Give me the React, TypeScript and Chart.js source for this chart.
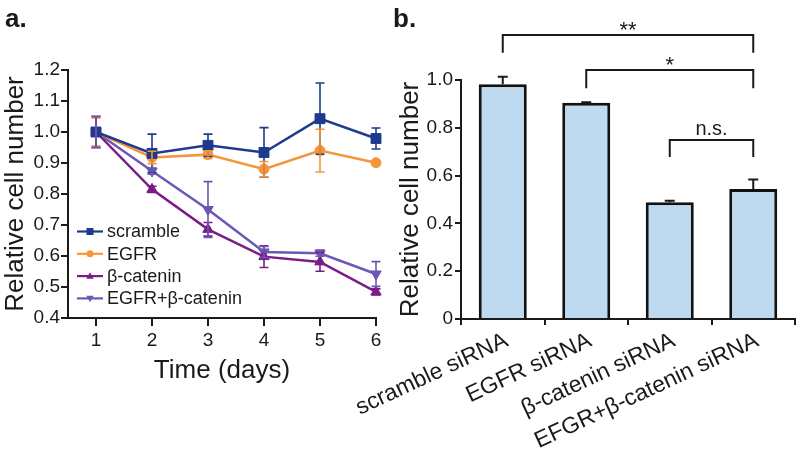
import React, { useEffect, useRef } from "react";
import { Chart, registerables } from "chart.js";

Chart.register(...registerables);

// ---------- Panel a data ----------
const days = [1, 2, 3, 4, 5, 6];
const lineYTicks = [0.4, 0.5, 0.6, 0.7, 0.8, 0.9, 1.0, 1.1, 1.2];
const scrambleMean = [1.0, 0.931, 0.957, 0.934, 1.043, 0.979];
const scrambleErr = [0.05, 0.062, 0.036, 0.08, 0.115, 0.034];
const egfrMean = [1.0, 0.918, 0.927, 0.88, 0.94, 0.901];
const egfrErr = [0.045, 0.02, 0.012, 0.025, 0.069, 0.004];
const bcatMean = [1.0, 0.815, 0.686, 0.598, 0.581, 0.484];
const bcatErr = [0.05, 0.01, 0.022, 0.035, 0.03, 0.01];
const comboMean = [1.0, 0.874, 0.75, 0.613, 0.609, 0.542];
const comboErr = [0.05, 0.01, 0.09, 0.018, 0.01, 0.04];
const seriesNames = ["scramble", "EGFR", "β-catenin", "EGFR+β-catenin"];

// ---------- Panel b data ----------
const barCategories = ["scramble siRNA", "EGFR siRNA", "β-catenin siRNA", "EFGR+β-catenin siRNA"];
const barValues = [0.982, 0.905, 0.488, 0.544];
const barErrors = [0.032, 0.002, 0.007, 0.04];
const barYTicks = [0, 0.2, 0.4, 0.6, 0.8, 1.0];
const bracketFrom = [0, 1, 2];
const bracketTo = [3, 3, 3];
const bracketLevel = [1.188, 1.042, 0.749];
const bracketLegEnd = [1.114, 0.966, 0.678];
const bracketLabels = ["**", "*", "n.s."];

const FONT = "'Liberation Sans', Arial, Helvetica, sans-serif";
const INK = "#1a1a1a";
const COLORS = ["#1d3a8e", "#f6963a", "#7b1c86", "#6b58b4"];
const MARKERS = ["rect", "circle", "triangle", "triangleDown"];

Chart.defaults.font.family = FONT;

function drawMarker(ctx: CanvasRenderingContext2D, kind: string, x: number, y: number, r: number) {
  ctx.beginPath();
  if (kind === "rect") {
    ctx.rect(x - r, y - r, 2 * r, 2 * r);
  } else if (kind === "circle") {
    ctx.arc(x, y, r, 0, Math.PI * 2);
  } else if (kind === "triangle") {
    ctx.moveTo(x, y - r * 1.1);
    ctx.lineTo(x + r * 1.05, y + r * 0.75);
    ctx.lineTo(x - r * 1.05, y + r * 0.75);
    ctx.closePath();
  } else {
    ctx.moveTo(x, y + r * 1.1);
    ctx.lineTo(x + r * 1.05, y - r * 0.75);
    ctx.lineTo(x - r * 1.05, y - r * 0.75);
    ctx.closePath();
  }
  ctx.fill();
}

const lineErrorPlugin = {
  id: "lineErrors",
  afterDatasetsDraw(chart: any) {
    const ctx = chart.ctx;
    const xs = chart.scales.x;
    const ys = chart.scales.y;
    chart.data.datasets.forEach((ds: any) => {
      const errs: number[] = ds.errors;
      ctx.save();
      ctx.strokeStyle = ds.borderColor;
      ctx.lineWidth = 1.6;
      ds.data.forEach((p: any, i: number) => {
        const x = xs.getPixelForValue(p.x);
        const yT = ys.getPixelForValue(p.y + errs[i]);
        const yB = ys.getPixelForValue(p.y - errs[i]);
        ctx.beginPath();
        ctx.moveTo(x, yT);
        ctx.lineTo(x, yB);
        ctx.moveTo(x - 4.5, yT);
        ctx.lineTo(x + 4.5, yT);
        ctx.moveTo(x - 4.5, yB);
        ctx.lineTo(x + 4.5, yB);
        ctx.stroke();
      });
      ctx.restore();
    });
  },
};

const lineLegendPlugin = {
  id: "lineLegend",
  afterDraw(chart: any) {
    const ctx = chart.ctx;
    const { left, top } = chart.chartArea;
    ctx.save();
    ctx.font = `18px ${FONT}`;
    ctx.textBaseline = "middle";
    ctx.textAlign = "left";
    seriesNames.forEach((name, i) => {
      const y = top + 161.5 + i * 22.3;
      const x0 = left + 9;
      ctx.strokeStyle = COLORS[i];
      ctx.fillStyle = COLORS[i];
      ctx.lineWidth = 2.2;
      ctx.beginPath();
      ctx.moveTo(x0, y);
      ctx.lineTo(x0 + 26, y);
      ctx.stroke();
      drawMarker(ctx, MARKERS[i], x0 + 13, y, 3.5);
      ctx.fillStyle = INK;
      ctx.fillText(name, x0 + 30, y + 1);
    });
    ctx.font = `bold 26px ${FONT}`;
    ctx.fillStyle = INK;
    ctx.textBaseline = "alphabetic";
    ctx.fillText("a.", 5, 27);
    ctx.restore();
  },
};

const barExtrasPlugin = {
  id: "barExtras",
  afterDatasetsDraw(chart: any) {
    const ctx = chart.ctx;
    const xs = chart.scales.x;
    const ys = chart.scales.y;
    const meta = chart.getDatasetMeta(0);
    ctx.save();
    ctx.strokeStyle = INK;
    ctx.lineWidth = 2;
    meta.data.forEach((bar: any, i: number) => {
      const x = bar.x;
      const y0 = ys.getPixelForValue(barValues[i]);
      const y1 = ys.getPixelForValue(barValues[i] + barErrors[i]);
      ctx.beginPath();
      ctx.moveTo(x, y0);
      ctx.lineTo(x, y1);
      ctx.moveTo(x - 5, y1);
      ctx.lineTo(x + 5, y1);
      ctx.stroke();
    });
    // significance brackets
    bracketLabels.forEach((label, i) => {
      const x1 = xs.getPixelForValue(bracketFrom[i]);
      const x2 = xs.getPixelForValue(bracketTo[i]);
      const y = ys.getPixelForValue(bracketLevel[i]);
      const yl = ys.getPixelForValue(bracketLegEnd[i]);
      ctx.beginPath();
      ctx.moveTo(x1, yl);
      ctx.lineTo(x1, y);
      ctx.lineTo(x2, y);
      ctx.lineTo(x2, yl);
      ctx.stroke();
      const stars = /^\*+$/.test(label);
      ctx.fillStyle = INK;
      ctx.textAlign = "center";
      ctx.textBaseline = "alphabetic";
      ctx.font = stars ? `22px ${FONT}` : `20px ${FONT}`;
      ctx.fillText(label, (x1 + x2) / 2, stars ? y + 2 : y - 5);
    });
    ctx.font = `bold 26px ${FONT}`;
    ctx.textAlign = "left";
    ctx.fillText("b.", 63, 27);
    ctx.restore();
  },
};

function LineChart() {
  const ref = useRef<HTMLCanvasElement>(null);
  useEffect(() => {
    const means = [scrambleMean, egfrMean, bcatMean, comboMean];
    const errs = [scrambleErr, egfrErr, bcatErr, comboErr];
    const chart = new Chart(ref.current as HTMLCanvasElement, {
      type: "line",
      data: {
        datasets: seriesNames.map((name, i) => ({
          label: name,
          data: days.map((d, k) => ({ x: d, y: means[i][k] })),
          errors: errs[i],
          borderColor: COLORS[i],
          backgroundColor: COLORS[i],
          pointBackgroundColor: COLORS[i],
          pointBorderColor: COLORS[i],
          borderWidth: 2.5,
          pointStyle: i === 0 ? "rect" : i === 1 ? "circle" : "triangle",
          pointRotation: i === 3 ? 180 : 0,
          pointRadius: i === 0 ? 7 : i === 1 ? 5 : 6,
          pointBorderWidth: 1,
          clip: false,
          tension: 0,
        })) as any,
      },
      options: {
        animation: false,
        responsive: false,
        layout: { padding: { top: 70, right: 24, left: 0, bottom: 0 } },
        plugins: { legend: { display: false }, tooltip: { enabled: false } },
        scales: {
          x: {
            type: "linear",
            min: 0.5,
            max: 6,
            afterBuildTicks: (s: any) => {
              s.ticks = days.map((v) => ({ value: v }));
            },
            afterFit: (s: any) => {
              s.height = 135;
            },
            grid: { drawOnChartArea: false, drawTicks: true, tickLength: 8, color: INK, lineWidth: 2 },
            border: { color: INK, width: 2 },
            ticks: { font: { size: 19 }, color: INK, padding: 3, maxRotation: 0 },
            title: {
              display: true,
              text: "Time (days)",
              font: { size: 26 },
              color: INK,
              padding: { top: 0, bottom: 67 },
            },
          },
          y: {
            min: 0.4,
            max: 1.2,
            afterBuildTicks: (s: any) => {
              s.ticks = lineYTicks.map((v) => ({ value: v }));
            },
            afterFit: (s: any) => {
              s.width = 68;
            },
            grid: { drawOnChartArea: false, drawTicks: true, tickLength: 7, color: INK, lineWidth: 2 },
            border: { color: INK, width: 2 },
            ticks: {
              font: { size: 19 },
              color: INK,
              padding: 1,
              callback: (v: any) => Number(v).toFixed(1),
            },
            title: {
              display: true,
              text: "Relative cell number",
              font: { size: 26 },
              color: INK,
              padding: { top: 0, bottom: 0 },
            },
          },
        },
      },
      plugins: [lineErrorPlugin, lineLegendPlugin],
    } as any);
    return () => chart.destroy();
  }, []);
  return (
    <canvas
      ref={ref}
      width={400}
      height={453}
      style={{ position: "absolute", left: 0, top: 0, width: 400, height: 453 }}
    />
  );
}

function BarChart() {
  const ref = useRef<HTMLCanvasElement>(null);
  useEffect(() => {
    const chart = new Chart(ref.current as HTMLCanvasElement, {
      type: "bar",
      data: {
        labels: barCategories,
        datasets: [
          {
            data: barValues,
            backgroundColor: "#bddaf1",
            borderColor: "#111111",
            borderWidth: 3,
            barPercentage: 0.575,
            categoryPercentage: 1,
          },
        ],
      },
      options: {
        animation: false,
        responsive: false,
        layout: { padding: { top: 80, right: 5, left: 0, bottom: 0 } },
        plugins: { legend: { display: false }, tooltip: { enabled: false } },
        scales: {
          x: {
            afterFit: (s: any) => {
              s.height = 134;
            },
            grid: { drawOnChartArea: false, drawTicks: true, tickLength: 6, color: INK, lineWidth: 2, offset: true },
            border: { color: INK, width: 2 },
            ticks: {
              font: { size: 23 },
              color: INK,
              padding: 2,
              labelOffset: 4,
              minRotation: 25,
              maxRotation: 25,
              autoSkip: false,
            },
          },
          y: {
            min: 0,
            max: 1.0,
            afterBuildTicks: (s: any) => {
              s.ticks = barYTicks.map((v) => ({ value: v }));
            },
            afterFit: (s: any) => {
              s.width = 131;
            },
            grid: { drawOnChartArea: false, drawTicks: true, tickLength: 6, color: INK, lineWidth: 2 },
            border: { color: INK, width: 2 },
            ticks: {
              font: { size: 19 },
              color: INK,
              padding: 2,
              callback: (v: any) => (Number(v) === 0 ? "0" : Number(v).toFixed(1)),
            },
            title: {
              display: true,
              text: "Relative cell number",
              font: { size: 26 },
              color: INK,
              padding: { top: 65, bottom: 0 },
            },
          },
        },
      },
      plugins: [barExtrasPlugin],
    } as any);
    return () => chart.destroy();
  }, []);
  return (
    <canvas
      ref={ref}
      width={470}
      height={453}
      style={{ position: "absolute", left: 330, top: 0, width: 470, height: 453 }}
    />
  );
}

export default function App() {
  return (
    <div
      style={{
        position: "fixed",
        left: 0,
        top: 0,
        width: 800,
        height: 453,
        background: "#ffffff",
        overflow: "hidden",
      }}
    >
      <LineChart />
      <BarChart />
    </div>
  );
}
